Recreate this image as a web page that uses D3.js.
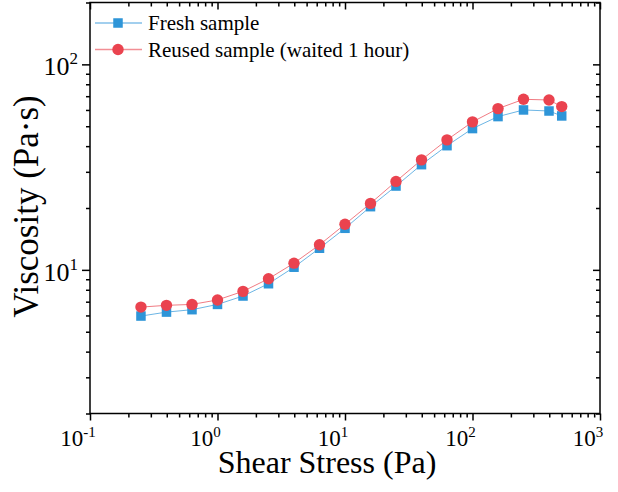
<!DOCTYPE html>
<html><head><meta charset="utf-8">
<script src="https://cdn.jsdelivr.net/npm/d3@7"></script>
<style>body{margin:0;background:#fff}svg{display:block}text{font-family:"Liberation Serif","Times New Roman",serif;fill:#000}</style>
</head><body><svg id="c" width="618" height="492"></svg>
<script>
const shearStress = [0.251,0.398,0.631,1,1.585,2.512,3.981,6.31,10,15.85,25.12,39.81,63.1,100,158.5,251.2,398.1,501];
const freshViscosity = [5.96,6.23,6.40,6.79,7.46,8.56,10.30,12.74,15.93,20.30,25.58,32.5,40.2,48.7,55.7,60.0,59.3,56.1];
const reusedViscosity = [6.59,6.72,6.79,7.14,7.86,9.05,10.78,13.24,16.66,21.06,26.94,34.3,42.9,52.5,60.9,67.6,67.1,62.3];
const seriesNames = ["Fresh sample","Reused sample (waited 1 hour)"];
const xMajor = [0.1,1,10,100,1000];
const xExp = ["-1","0","1","2","3"];
const yMajor = [10,100];
const yExp = ["1","2"];
const xTitle = "Shear Stress (Pa)";
const yTitle = "Viscosity (Pa\u00b7s)";

const svg = d3.select("#c");
const L=90, R=600, T=2.5, B=413.5;
const x = d3.scaleLog().domain([0.1,1000]).range([L,R]);
const y = d3.scaleLog().domain([2,200]).range([B,T]);

function minors(dom){const out=[];for(let e=Math.floor(Math.log10(dom[0]));e<Math.ceil(Math.log10(dom[1]));e++){for(let k=2;k<=9;k++){const v=k*Math.pow(10,e);if(v>=dom[0]*0.999&&v<=dom[1]*1.001)out.push(v);}}return out;}
const xMinor = minors([0.1,1000]);
const yMinor = minors([2,200]);

function styleAxis(g){g.select(".domain").remove();g.selectAll("line").attr("stroke","#000").attr("stroke-width",1.5);g.selectAll("text").remove();}
svg.append("g").attr("transform",`translate(0,${B})`).call(d3.axisBottom(x).tickValues(xMajor).tickSize(7).tickFormat("")).call(styleAxis);
svg.append("g").attr("transform",`translate(0,${B})`).call(d3.axisBottom(x).tickValues(xMinor).tickSize(4).tickFormat("")).call(styleAxis);
svg.append("g").attr("transform",`translate(0,${T})`).call(d3.axisBottom(x).tickValues(xMajor).tickSize(7).tickFormat("")).call(styleAxis);
svg.append("g").attr("transform",`translate(0,${T})`).call(d3.axisBottom(x).tickValues(xMinor).tickSize(4).tickFormat("")).call(styleAxis);
svg.append("g").attr("transform",`translate(${L},0)`).call(d3.axisLeft(y).tickValues(yMajor).tickSize(8).tickFormat("")).call(styleAxis);
svg.append("g").attr("transform",`translate(${L},0)`).call(d3.axisLeft(y).tickValues(yMinor).tickSize(4).tickFormat("")).call(styleAxis);
svg.append("g").attr("transform",`translate(${R},0)`).call(d3.axisLeft(y).tickValues(yMajor).tickSize(7).tickFormat("")).call(styleAxis);
svg.append("g").attr("transform",`translate(${R},0)`).call(d3.axisLeft(y).tickValues(yMinor).tickSize(4).tickFormat("")).call(styleAxis);
svg.append("rect").attr("x",L).attr("y",T).attr("width",R-L).attr("height",B-T).attr("fill","none").attr("stroke","#000").attr("stroke-width",1.5);

xMajor.forEach((v,i)=>{
  const t=svg.append("text").attr("x",x(v)-12).attr("y",446).attr("text-anchor","middle").style("font-size","23px");
  t.append("tspan").text("10");
  t.append("tspan").attr("dy",-9).style("font-size","15px").text(xExp[i]);
});
yMajor.forEach((v,i)=>{
  const t=svg.append("text").attr("x",78).attr("y",y(v)+11).attr("text-anchor","end").style("font-size","26px");
  t.append("tspan").text("10");
  t.append("tspan").attr("dy",-11).style("font-size","17px").text(yExp[i]);
});
svg.append("text").attr("x",327).attr("y",473).attr("text-anchor","middle").style("font-size","32px").text(xTitle);
svg.append("text").attr("transform",`translate(38,${206.5}) rotate(-90)`).attr("text-anchor","middle").style("font-size","35px").text(yTitle);

const blue="#2e95d8", red="#ea434f";
const line=d3.line().x(d=>x(d[0])).y(d=>y(d[1]));
const fresh=shearStress.map((s,i)=>[s,freshViscosity[i]]);
const reused=shearStress.map((s,i)=>[s,reusedViscosity[i]]);
svg.append("path").datum(fresh).attr("d",line).attr("fill","none").attr("stroke",blue).attr("stroke-opacity",0.7).attr("stroke-width",1);
svg.append("path").datum(reused).attr("d",line).attr("fill","none").attr("stroke",red).attr("stroke-opacity",0.7).attr("stroke-width",1);
const sq=9.5;
svg.append("g").selectAll("rect").data(fresh).join("rect").attr("x",d=>x(d[0])-sq/2).attr("y",d=>y(d[1])-sq/2).attr("width",sq).attr("height",sq).attr("fill",blue);
svg.append("g").selectAll("circle").data(reused).join("circle").attr("cx",d=>x(d[0])).attr("cy",d=>y(d[1])).attr("r",5.7).attr("fill",red);

const lg=svg.append("g");
[[blue,23,30],[red,49.5,56.5]].forEach(([c,ly,ty],i)=>{
  lg.append("line").attr("x1",95).attr("x2",142).attr("y1",ly).attr("y2",ly).attr("stroke",c).attr("stroke-opacity",0.6).attr("stroke-width",1.5);
  if(i===0) lg.append("rect").attr("x",118-sq/2).attr("y",ly-sq/2).attr("width",sq).attr("height",sq).attr("fill",c);
  else lg.append("circle").attr("cx",118).attr("cy",ly).attr("r",5.7).attr("fill",c);
  lg.append("text").attr("x",148).attr("y",ty).style("font-size","21px").text(seriesNames[i]);
});
</script></body></html>
